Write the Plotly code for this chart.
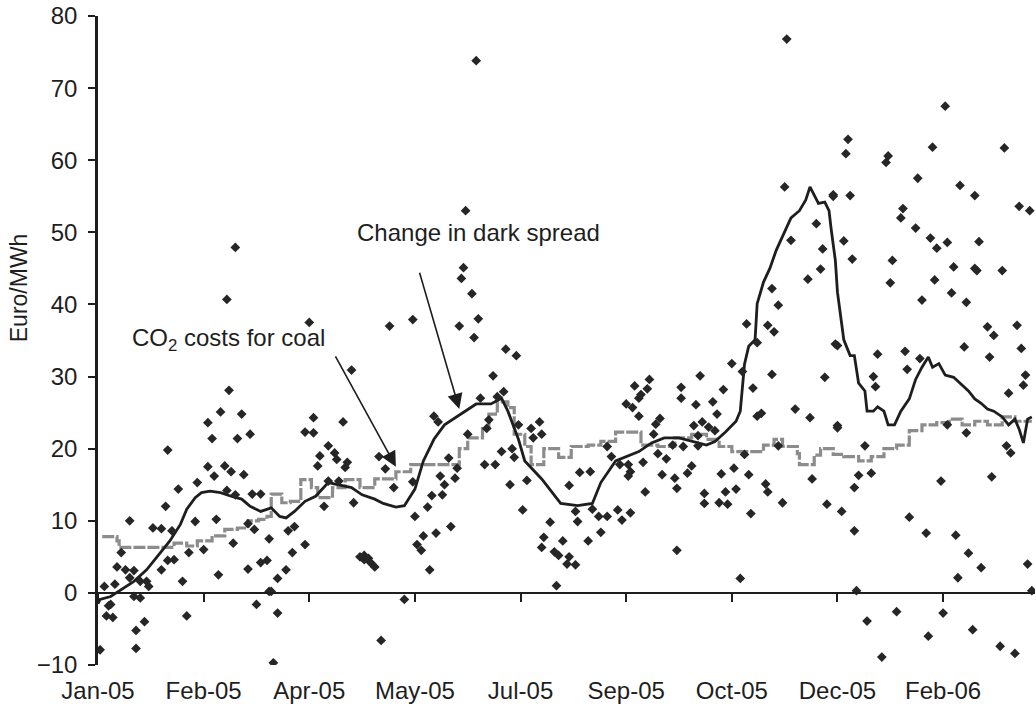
import pandas as pd
import plotly.graph_objects as go

start = pd.Timestamp('2005-01-01')

# daily dark spread observations (day offset from 1 Jan 2005, Euro/MWh)
pt_day = [1, 3, 4, 5, 6, 7, 8, 9, 11, 13, 15, 15, 17, 17, 18, 18, 20, 20, 22, 23,
          24, 26, 30, 30, 32, 33, 33, 35, 36, 38, 40, 42, 43, 46, 47, 50, 52, 52, 54, 55,
          56, 57, 58, 60, 61, 61, 62, 63, 64, 65, 65, 66, 68, 69, 71, 71, 72, 73, 74, 75,
          77, 77, 80, 81, 81, 82, 83, 85, 85, 89, 90, 92, 93, 98, 98, 100, 102, 102, 104, 105,
          107, 109, 109, 112, 113, 114, 116, 117, 118, 120, 121, 124, 126, 126, 128, 129, 131, 133, 134, 136,
          138, 140, 145, 149, 149, 150, 151, 153, 154, 156, 157, 158, 159, 160, 161, 162, 163, 164, 166, 167,
          169, 170, 171, 172, 173, 174, 175, 177, 178, 179, 180, 181, 183, 184, 185, 187, 188, 189, 191, 192,
          193, 195, 196, 197, 198, 199, 201, 203, 205, 206, 209, 210, 210, 211, 214, 216, 217, 218, 220, 222,
          223, 223, 226, 226, 227, 228, 232, 233, 234, 237, 238, 241, 241, 243, 246, 247, 248, 250, 252, 251,
          251, 252, 253, 254, 256, 256, 257, 258, 259, 260, 261, 263, 264, 265, 266, 267, 269, 272, 273, 274,
          274, 276, 276, 277, 279, 281, 282, 283, 284, 284, 285, 286, 287, 287, 289, 291, 292, 293, 294, 295,
          296, 297, 298, 300, 301, 302, 304, 305, 306, 307, 308, 309, 310, 312, 312, 314, 316, 317, 317, 319,
          319, 320, 322, 322, 324, 325, 326, 328, 330, 336, 337, 338, 340, 342, 343, 344, 345, 348, 349, 350,
          348, 350, 350, 352, 353, 354, 355, 356, 357, 358, 358, 359, 360, 363, 364, 366, 367, 368, 369, 371,
          373, 374, 375, 376, 378, 380, 381, 382, 383, 384, 387, 388, 389, 390, 392, 393, 394, 395, 396, 397,
          399, 400, 401, 402, 402, 404, 405, 406, 407, 408, 410, 411, 411, 412, 414, 415, 415, 416, 417, 418,
          421, 422, 423, 424, 427, 428, 429, 430, 431, 432, 434, 435, 436, 437, 438, 439, 440, 441, 442]
pt_val = [-7.9, 0.9, -3.2, -1.8, -1.6, -3.4, 1.2, 3.6, 5.6, 3.2, 2.1, 10.0, 3.1, -0.5, -7.7, -5.2, 1.6, -0.7, -4.0, 1.6,
          0.9, 9.0, 3.2, 8.9, 12.0, 19.8, 4.5, 8.6, 4.6, 14.4, 1.6, -3.2, 5.6, 9.9, 15.3, 6.0, 17.5, 23.6, 21.4, 16.2,
          10.2, 2.5, 25.1, 17.6, 14.2, 40.7, 28.1, 16.8, 6.9, 13.6, 47.9, 21.4, 24.8, 16.4, 3.3, 9.6, 22.0, 13.7, 8.8, -1.6,
          4.2, 13.7, 4.5, 0.2, 7.5, 0.2, -9.7, -2.8, 2.0, 3.2, 8.6, 5.6, 9.2, 6.7, 22.3, 37.5, 24.3, 22.2, 17.6, 19.0,
          12.0, 20.4, 15.5, 19.4, 18.5, 15.5, 23.7, 17.4, 18.1, 30.9, 12.5, 5.0, 4.6, 5.2, 4.8, 4.2, 3.6, 18.9, -6.6, 17.2,
          37.0, 14.6, -0.9, 37.9, 15.4, 10.6, 6.7, 5.9, 7.9, 11.9, 3.2, 13.5, 24.5, 8.3, 23.7, 16.2, 13.6, 15.0, 18.7, 9.2,
          15.9, 17.3, 37.0, 43.6, 45.1, 53.0, 22.0, 41.5, 35.4, 73.8, 38.0, 27.0, 17.8, 22.8, 24.0, 30.1, 17.8, 27.2, 19.6, 27.9,
          33.8, 15.0, 20.0, 18.8, 32.9, 23.3, 11.5, 15.6, 22.8, 21.5, 23.7, 22.0, 6.3, 7.7, 9.8, 5.7, 1.0, 5.2, 7.2, 4.0,
          14.9, 5.0, 3.9, 11.3, 9.9, 16.7, 7.2, 16.8, 11.6, 10.6, 8.4, 10.6, 20.3, 18.9, 11.5, 17.8, 10.1, 26.2, 16.8, 17.8,
          16.2, 11.1, 25.7, 28.7, 27.0, 24.5, 27.5, 18.1, 14.0, 28.3, 29.6, 22.0, 23.4, 19.3, 24.2, 16.4, 18.6, 20.5, 15.9, 14.5,
          5.9, 27.0, 28.5, 20.3, 16.6, 17.6, 23.2, 26.1, 21.8, 20.4, 30.1, 23.7, 13.8, 12.4, 23.0, 26.5, 22.5, 24.8, 12.5, 16.5,
          28.2, 14.0, 12.3, 31.8, 17.3, 14.4, 2.0, 30.7, 19.2, 37.3, 16.4, 11.0, 28.4, 34.7, 24.5, 24.9, 15.1, 14.0, 37.1, 42.2,
          30.3, 36.2, 39.9, 20.4, 12.5, 56.3, 76.8, 48.9, 25.5, 43.5, 24.3, 15.8, 51.2, 44.9, 47.7, 29.9, 12.3, 55.2, 34.5, 23.2,
          55.0, 22.9, 34.3, 11.3, 48.8, 60.9, 62.9, 55.1, 46.3, 14.6, 8.6, 0.3, 16.3, 20.4, -3.9, 16.6, 30.0, 28.6, 33.1, -8.9,
          59.7, 60.6, 43.0, 46.1, -2.6, 52.0, 53.3, 33.5, 31.0, 10.5, 50.6, 57.5, 32.5, 40.6, 8.3, -6.0, 49.2, 61.8, 43.4, 47.8,
          15.5, -2.8, 67.5, 48.6, 23.3, 41.6, 45.2, 8.0, 2.1, 56.5, 34.1, 40.3, 22.2, 5.5, -5.1, 55.1, 45.0, 44.7, 48.7, 3.5,
          36.9, 32.7, 16.1, 35.7, -7.4, 44.7, 61.7, 20.4, 27.7, 19.4, -8.4, 37.1, 53.6, 33.9, 28.8, 30.2, 4.0, 53.0, 0.3]

# smoothed change in dark spread
spread_day = [0, 1, 6, 11, 17, 23, 29, 34, 39, 42, 46, 49, 53, 58, 63, 68, 72, 77, 82, 86,
              89, 93, 98, 103, 109, 114, 120, 125, 131, 135, 141, 145, 150, 154, 159, 164, 172, 179, 186, 191,
              194, 199, 202, 210, 219, 227, 234, 238, 245, 249, 256, 262, 268, 275, 281, 288, 292, 297, 302, 304,
              306, 308, 311, 312, 315, 318, 321, 324, 328, 332, 335, 337, 341, 344, 346, 347, 349, 350, 353, 356,
              358, 360, 363, 364, 367, 369, 372, 374, 377, 380, 384, 387, 390, 393, 395, 398, 401, 405, 409, 412,
              415, 418, 421, 424, 428, 431, 434, 436, 438, 440, 442]
spread_val = [-1.5, -0.9, -0.5, 0.5, 1.6, 3.2, 5.3, 7.2, 9.5, 11.6, 13.2, 13.9, 14.1, 13.9, 13.4, 13.0, 12.0, 11.3, 11.8, 10.6,
              10.4, 11.3, 12.7, 13.4, 15.3, 15.0, 14.6, 13.6, 13.0, 12.4, 11.9, 12.1, 14.4, 18.3, 21.3, 23.3, 24.8, 26.2, 26.2, 27.0,
              25.2, 21.3, 18.3, 15.8, 12.4, 12.1, 12.4, 15.3, 18.3, 18.8, 19.6, 20.8, 21.5, 21.5, 21.0, 20.5, 21.0, 22.3, 23.8, 25.2,
              31.7, 34.2, 35.1, 40.1, 43.1, 45.0, 47.5, 49.5, 52.0, 53.0, 54.5, 56.3, 54.0, 54.2, 53.0, 50.5, 46.1, 41.7, 35.1, 32.9,
              32.9, 29.1, 28.0, 25.2, 25.2, 25.8, 25.2, 23.3, 23.3, 25.2, 26.9, 29.6, 31.3, 32.7, 31.3, 31.8, 30.2, 29.9, 28.8, 28.0,
              26.9, 26.3, 25.5, 25.2, 24.4, 23.3, 24.1, 22.7, 20.8, 24.1, 24.4]

# CO2 costs for coal-fired generation
co2_day = [2, 9, 10, 30, 36, 42, 47, 54, 60, 66, 71, 76, 80, 82, 87, 91, 96, 101, 104, 111,
           117, 124, 131, 141, 148, 167, 171, 175, 182, 185, 189, 194, 197, 202, 205, 211, 218, 224, 232, 238,
           245, 251, 257, 265, 273, 281, 288, 294, 300, 308, 315, 320, 324, 331, 332, 339, 342, 348, 353, 360,
           366, 372, 378, 384, 390, 397, 403, 409, 415, 421, 428, 434, 442]
co2_val = [7.8, 7.2, 6.3, 6.3, 6.9, 6.5, 7.2, 7.9, 8.8, 9.0, 10.0, 10.2, 10.6, 13.7, 12.5, 12.7, 15.7, 14.6, 13.2, 14.6,
           15.7, 14.6, 15.8, 16.8, 17.8, 17.8, 20.0, 21.5, 22.8, 24.8, 26.5, 25.7, 22.0, 20.3, 17.8, 20.0, 18.8, 20.3, 20.5, 21.0,
           22.3, 22.3, 20.5, 20.3, 21.5, 22.0, 21.3, 20.3, 19.6, 19.6, 20.5, 21.3, 20.3, 19.3, 17.8, 19.1, 20.0, 19.2, 18.9, 18.3,
           18.9, 20.0, 20.5, 22.5, 23.3, 23.6, 24.1, 23.3, 23.8, 23.3, 24.4, 23.8, 23.8]


def to_date(days):
    return [start + pd.Timedelta(days=d) for d in days]


font = 'Liberation Sans, Arial, sans-serif'
ink = '#1e1e1e'

fig = go.Figure()
fig.add_trace(go.Scatter(x=to_date(co2_day), y=co2_val, mode='lines', name='CO2',
                         line=dict(color='#8c8c8c', width=3.2, shape='hv', dash='12px,2px')))
fig.add_trace(go.Scatter(x=to_date(pt_day), y=pt_val, mode='markers', name='daily', xaxis='x2',
                         marker=dict(symbol='diamond', size=7.5, color='#262626')))
fig.add_trace(go.Scatter(x=to_date(spread_day), y=spread_val, mode='lines', name='spread',
                         line=dict(color=ink, width=2.8)))

x_end = start + pd.Timedelta(days=443.5)
x_range = [start, x_end]
day_ms = 86400000

fig.update_layout(
    width=1036, height=713,
    margin=dict(l=98, r=1, t=16, b=48),
    paper_bgcolor='white', plot_bgcolor='white',
    font=dict(family=font, size=24, color=ink),
    showlegend=False,
    xaxis=dict(type='date', range=x_range, tick0=start, dtick=50 * day_ms, tickformat='%b-%y',
               showgrid=False, zeroline=False, showline=False,
               ticks='outside', ticklen=4, tickcolor='rgba(0,0,0,0)',
               tickfont=dict(size=24, color=ink)),
    xaxis2=dict(type='date', overlaying='x', matches='x', anchor='free', position=10 / 90,
                range=x_range, tick0=start, dtick=50 * day_ms,
                showgrid=False, zeroline=False, showline=True, linecolor=ink, linewidth=2,
                ticks='outside', ticklen=8, tickwidth=2, tickcolor=ink, showticklabels=False),
    yaxis=dict(range=[-10, 80], dtick=10, showgrid=False, zeroline=False,
               showline=True, linecolor=ink, linewidth=2.5,
               ticks='outside', ticklen=7, tickwidth=2, tickcolor=ink,
               ticklabelstandoff=6, tickfont=dict(size=24, color=ink)),
)

fig.add_annotation(xref='paper', yref='paper', x=-0.084, y=0.581, text='Euro/MWh',
                   textangle=-90, showarrow=False, font=dict(size=23, color=ink),
                   xanchor='center', yanchor='middle')

fig.add_annotation(x=start + pd.Timedelta(days=180), y=50, text='Change in dark spread',
                   showarrow=False, font=dict(size=24, color=ink))
fig.add_annotation(x=start + pd.Timedelta(days=62), y=35.2, text='CO<sub>2</sub> costs for coal',
                   showarrow=False, font=dict(size=24, color=ink))

# arrows pointing at the two curves
fig.add_annotation(x=start + pd.Timedelta(days=171), y=25.5,
                   ax=start + pd.Timedelta(days=152), ay=44.6, axref='x', ayref='y',
                   text='', showarrow=True, arrowhead=2, arrowsize=1.9, arrowwidth=1.6,
                   arrowcolor=ink, standoff=0)
fig.add_annotation(x=start + pd.Timedelta(days=141), y=17.5,
                   ax=start + pd.Timedelta(days=112), ay=33.0, axref='x', ayref='y',
                   text='', showarrow=True, arrowhead=2, arrowsize=1.9, arrowwidth=1.6,
                   arrowcolor=ink, standoff=0)

# drop the browser's default page margin so the figure fills the window exactly
fig.write_html('out.html', config={'displayModeBar': False},
               post_script="document.body.style.margin='0';")
